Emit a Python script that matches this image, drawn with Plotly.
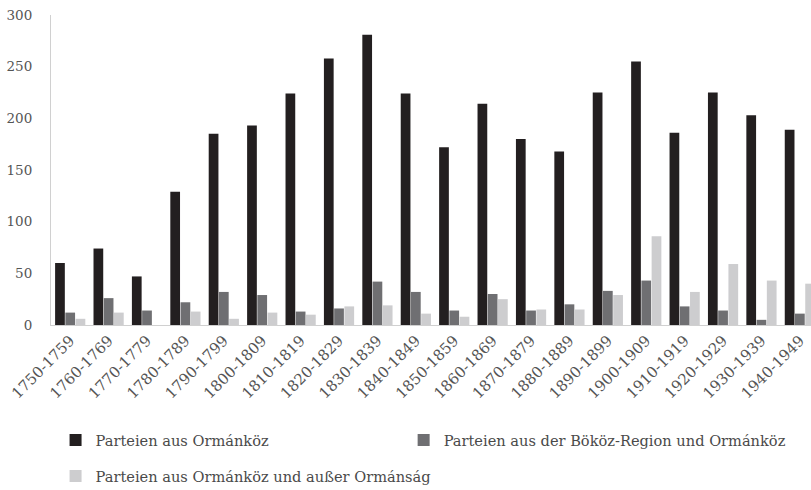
import plotly.graph_objects as go

categories = ["1750-1759", "1760-1769", "1770-1779", "1780-1789", "1790-1799",
              "1800-1809", "1810-1819", "1820-1829", "1830-1839", "1840-1849",
              "1850-1859", "1860-1869", "1870-1879", "1880-1889", "1890-1899",
              "1900-1909", "1910-1919", "1920-1929", "1930-1939", "1940-1949"]

ormankoz = [60, 74, 47, 129, 185, 193, 224, 258, 281, 224,
            172, 214, 180, 168, 225, 255, 186, 225, 203, 189]
bokoz_ormankoz = [12, 26, 14, 22, 32, 29, 13, 16, 42, 32,
                  14, 30, 14, 20, 33, 43, 18, 14, 5, 11]
ormankoz_ausser = [6, 12, 0, 13, 6, 12, 10, 18, 19, 11,
                   8, 25, 15, 15, 29, 86, 32, 59, 43, 40]

names = ["Parteien aus Ormánköz",
         "Parteien aus der Bököz-Region und Ormánköz",
         "Parteien aus Ormánköz und außer Ormánság"]
colors = ["#231f20", "#6f6f72", "#cdcdcf"]
series = [ormankoz, bokoz_ormankoz, ormankoz_ausser]
legends = ["legend", "legend2", "legend3"]

fig = go.Figure()
for name, vals, col, lg in zip(names, series, colors, legends):
    fig.add_trace(go.Bar(x=categories, y=vals, name=name, legend=lg,
                         marker=dict(color=col, line=dict(width=0))))

font_family = "DejaVu Serif, Liberation Serif, serif"
legend_common = dict(font=dict(family=font_family, size=14.6, color="#4a4a4a"),
                     bgcolor="rgba(0,0,0,0)", itemwidth=30,
                     xanchor="left", yanchor="middle")

fig.update_layout(
    width=811, height=490,
    margin=dict(l=51, r=0, t=15, b=165, autoexpand=False),
    paper_bgcolor="white", plot_bgcolor="white",
    barmode="group", bargap=0.2, bargroupgap=0.05,
    font=dict(family=font_family, color="#555"),
    showlegend=True,
    legend=dict(x=0.006, y=-0.371, **legend_common),
    legend2=dict(x=0.464, y=-0.371, **legend_common),
    legend3=dict(x=0.006, y=-0.487, **legend_common),
)
fig.update_xaxes(tickangle=-45, showline=True, linecolor="#d0d0d0", linewidth=1,
                 ticks="", showgrid=False, automargin=False,
                 range=[-0.5, 19.29],
                 tickfont=dict(family=font_family, size=15, color="#555"))
fig.update_yaxes(range=[0, 300], dtick=50, showline=True, linecolor="#d0d0d0",
                 linewidth=1, ticks="outside", ticklen=15,
                 tickcolor="rgba(0,0,0,0)", showgrid=False, zeroline=False,
                 automargin=False, ticklabeloverflow="allow",
                 tickfont=dict(family=font_family, size=13.5, color="#555"))

fig.write_html("out.html",
               config={"displayModeBar": False},
               post_script="document.body.style.margin='0';document.body.style.padding='0';")
